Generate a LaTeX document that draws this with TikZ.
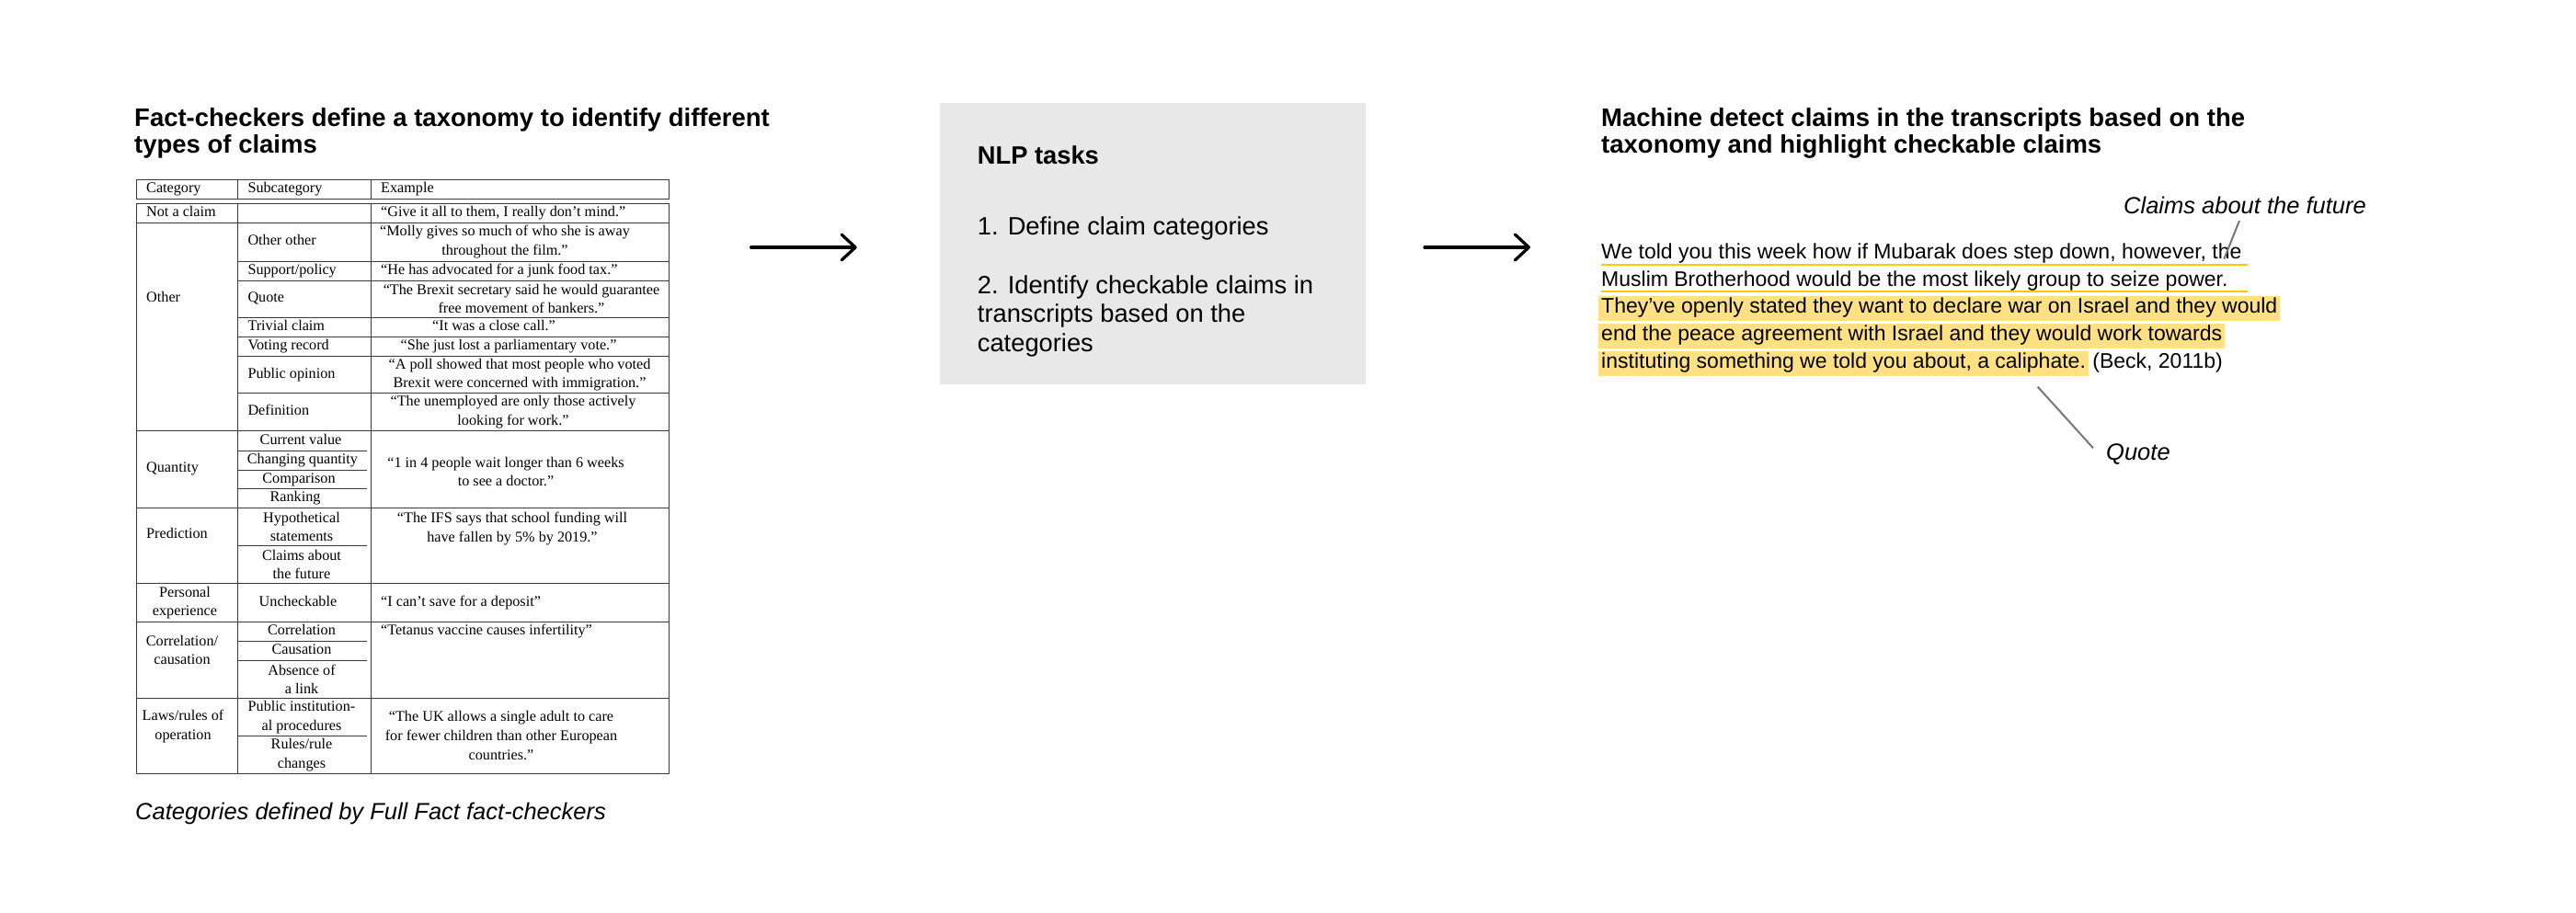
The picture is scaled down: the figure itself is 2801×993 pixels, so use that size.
\documentclass[tikz,border=0pt]{standalone}
\usepackage{fontspec}
\setmainfont{Liberation Sans}
\newfontfamily\tabfont{Liberation Serif}
\usetikzlibrary{arrows.meta}
\definecolor{boxgray}{HTML}{E8E8E8}
\definecolor{hlyellow}{HTML}{FFE184}
\definecolor{ulyellow}{HTML}{FFC800}
\definecolor{callgray}{HTML}{777777}
\definecolor{rulegray}{HTML}{3A3A3A}
\newcommand{\fsz}[2]{\fontsize{#1pt}{#2pt}\selectfont}
\tikzset{
  titletxt/.style={font=\bfseries\fsz{27.5}{29.5}, anchor=base west, inner sep=0, align=left},
  boxtxt/.style={font=\fsz{27.3}{31.7}, anchor=base west, inner sep=0, align=left},
  paratxt/.style={font=\fsz{23}{29.75}, anchor=base west, inner sep=0},
  hltxt/.style={paratxt, fill=hlyellow, text height=18.3pt, text depth=9pt, inner xsep=3pt},
  labeltxt/.style={font=\itshape\fsz{25.5}{30}, anchor=base west, inner sep=0},
  cell/.style={font=\tabfont\fsz{16.2}{20.6}, inner sep=0, align=center},
  one/.style={text height=11.5pt, text depth=4pt},
  lcell/.style={cell, one, anchor=west},
  tline/.style={draw=rulegray, line width=1pt},
  callout/.style={draw=callgray, line width=2pt},
  flow/.style={line width=3.3pt, line cap=round, -{Straight Barb[length=15pt, width=28pt, round]}},
  uline/.style={draw=ulyellow, line width=1.8pt}
}
\begin{document}
\begin{tikzpicture}[x=1pt, y=-1pt]
\useasboundingbox (0,0) rectangle (2801,993);

% ---------- left panel ----------
% (base anchor of a multi-line node = baseline of its last line)
\node[titletxt] (ltitle) at (146,166.5) {Fact-checkers define a taxonomy to identify different\\types of claims};

% table rules
\draw[tline] (148.3,195.7) rectangle (727,216);
\draw[tline] (258.3,195.7) -- (258.3,216) (403.3,195.7) -- (403.3,216);
\draw[tline] (148.3,221.7) rectangle (727,841);
\draw[tline] (258.3,221.7) -- (258.3,841) (403.3,221.7) -- (403.3,841);
\foreach \yy in {242.3,468.3,552.3,634.3,676.7,759.3}
  \draw[tline] (148.3,\yy) -- (727,\yy);
\foreach \yy in {284,305,345.7,366.7,387.3,427.7}
  \draw[tline] (258.3,\yy) -- (727,\yy);
\foreach \yy in {490.7,511,531.7,593.3,697.7,718.3,800.7}
  \draw[tline] (258.3,\yy) -- (399.3,\yy);

% header
\node[lcell] (hcat) at (159,206) {Category};
\node[lcell] (hsub) at (269.3,206) {Subcategory};
\node[lcell] (hex) at (414,206) {Example};
% not a claim
\node[lcell] (c1) at (159,232) {Not a claim};
\node[lcell] (e1) at (414,232) {“Give it all to them, I really don’t mind.”};
% other
\node[lcell] (c2) at (159,325) {Other};
\node[lcell] (s21) at (269.3,263) {Other other};
\node[lcell] (s22) at (269.3,294.5) {Support/policy};
\node[lcell] (s23) at (269.3,325) {Quote};
\node[lcell] (s24) at (269.3,356) {Trivial claim};
\node[lcell] (s25) at (269.3,377) {Voting record};
\node[lcell] (s26) at (269.3,407.5) {Public opinion};
\node[lcell] (s27) at (269.3,448) {Definition};
\node[cell] (e21) at (549,263) {“Molly gives so much of who she is away\\throughout the film.”};
\node[lcell] (e22) at (414,294.5) {“He has advocated for a junk food tax.”};
\node[cell] (e23) at (567,325) {“The Brexit secretary said he would guarantee\\free movement of bankers.”};
\node[cell,one] (e24) at (537,356) {“It was a close call.”};
\node[cell,one] (e25) at (553,377) {“She just lost a parliamentary vote.”};
\node[cell] (e26) at (565,407.5) {“A poll showed that most people who voted\\Brexit were concerned with immigration.”};
\node[cell] (e27) at (558,448) {“The unemployed are only those actively\\looking for work.”};
% quantity
\node[lcell] (c3) at (159,510) {Quantity};
\node[cell,one] (s31) at (327,479.5) {Current value};
\node[cell,one] (s32) at (329,501) {Changing quantity};
\node[cell,one] (s33) at (325,521.5) {Comparison};
\node[cell,one] (s34) at (321,542) {Ranking};
\node[cell] (e3) at (550,513) {“1 in 4 people wait longer than 6 weeks\\to see a doctor.”};
% prediction
\node[lcell] (c4) at (159,581.7) {Prediction};
\node[cell] (s41) at (328,572.8) {Hypothetical\\statements};
\node[cell] (s42) at (328,613.8) {Claims about\\the future};
\node[cell] (e4) at (557,575) {“The IFS says that school funding will\\have fallen by 5\% by 2019.”};
% personal experience
\node[cell] (c5) at (201,655.5) {Personal\\experience};
\node[cell,one] (s5) at (324,655.5) {Uncheckable};
\node[lcell] (e5) at (414,655.5) {“I can’t save for a deposit”};
% correlation
\node[cell] (c6) at (198,707) {Correlation/\\causation};
\node[cell,one] (s61) at (328,687) {Correlation};
\node[cell,one] (s62) at (328,708) {Causation};
\node[cell] (s63) at (328,738.8) {Absence of\\a link};
\node[lcell] (e6) at (414,687) {“Tetanus vaccine causes infertility”};
% laws
\node[cell] (c7) at (199,790) {Laws/rules of\\operation};
\node[cell] (s71) at (328,780) {Public institution-\\al procedures};
\node[cell] (s72) at (328,821) {Rules/rule\\changes};
\node[cell] (e7) at (545,800) {“The UK allows a single adult to care\\for fewer children than other European\\countries.”};

\node[labeltxt] (caption) at (147,891.7) {Categories defined by Full Fact fact-checkers};

% ---------- arrows ----------
\coordinate (a1s) at (816.7,269);
\coordinate (a1e) at (931.7,269);
\coordinate (a2s) at (1549,269);
\coordinate (a2e) at (1664,269);
\draw[flow] (a1s) -- (a1e);
\draw[flow] (a2s) -- (a2e);

% ---------- middle panel ----------
\node[fill=boxgray, anchor=north west, inner sep=0, minimum width=463.3pt, minimum height=306.3pt] (nlp) at (1021.7,111.7) {};
\node[boxtxt, font=\bfseries\fsz{27.3}{31.7}] (nlpt) at (1062.7,178) {NLP tasks};
\node[boxtxt] (task1) at (1062.7,255) {1. Define claim categories};
\node[boxtxt] (task2) at (1062.7,382.4) {2. Identify checkable claims in\\transcripts based on the\\categories};

% ---------- right panel ----------
\node[titletxt] (rtitle) at (1741,166.5) {Machine detect claims in the transcripts based on the\\taxonomy and highlight checkable claims};

\node[paratxt] (p1) at (1741,281) {We told you this week how if Mubarak does step down, however, the};
\node[paratxt] (p2) at (1741,311) {Muslim Brotherhood would be the most likely group to seize power.};
\node[hltxt] (p3) at (1738,340) {They’ve openly stated they want to declare war on Israel and they would};
\node[hltxt] (p4) at (1738,370) {end the peace agreement with Israel and they would work towards};
\node[hltxt] (p5) at (1738,400) {instituting something we told you about, a caliphate.};
\node[paratxt] (p5b) at ([xshift=4pt]p5.base east) {(Beck, 2011b)};

\coordinate (u1e) at (2444,287.7);
\coordinate (u2e) at (2444,316.7);
\draw[uline] (p1.base west |- u1e) -- (u1e);
\draw[uline] (p2.base west |- u2e) -- (u2e);

\node[labeltxt] (cfl) at (2309,232.7) {Claims about the future};
\coordinate (cfs) at (2435,240);
\coordinate (cft) at (2418.3,281.7);
\draw[callout] (cfs) -- (cft);

\node[labeltxt] (qtl) at (2290,500.7) {Quote};
\coordinate (qs) at (2215.7,420.7);
\coordinate (qe) at (2276,487.3);
\draw[callout] (qs) -- (qe);
\end{tikzpicture}
\end{document}
